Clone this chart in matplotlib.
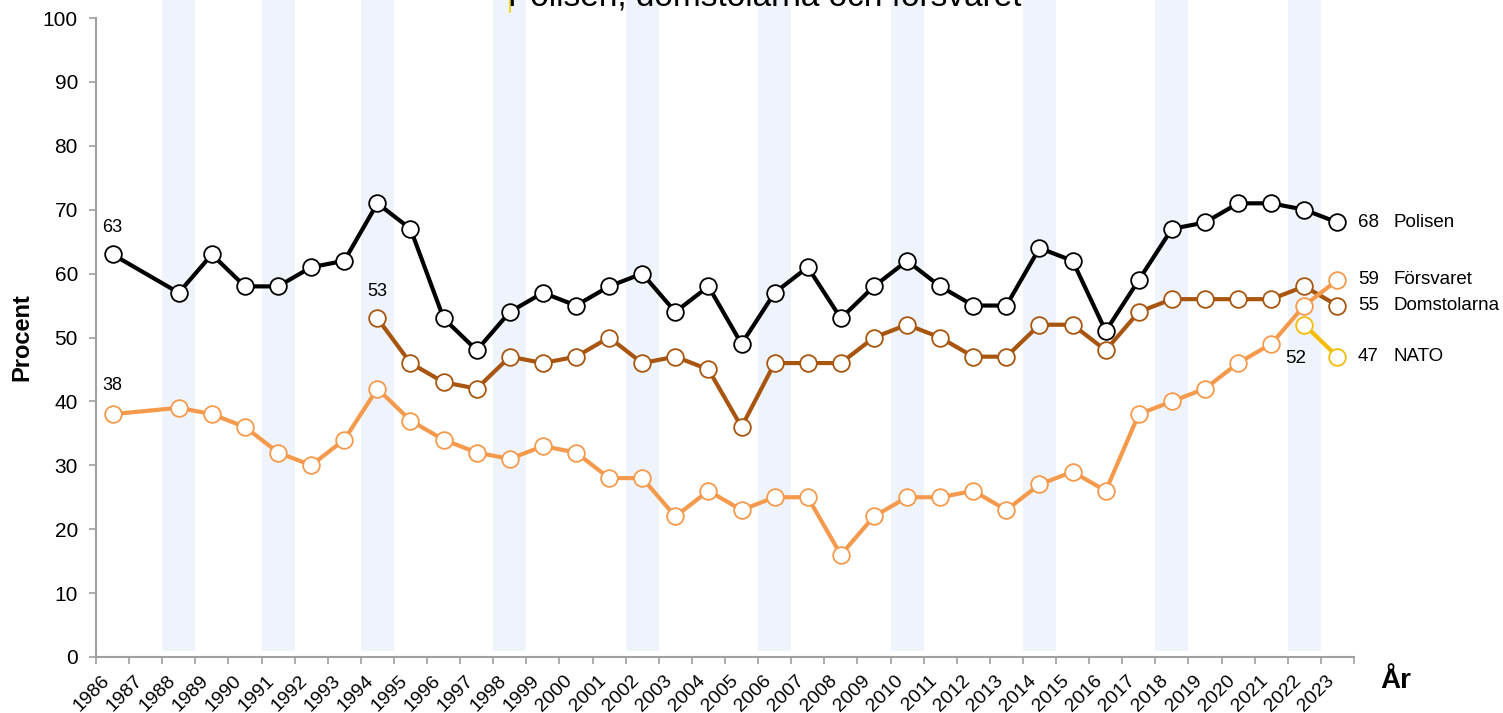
import matplotlib
matplotlib.use("Agg")
import matplotlib.pyplot as plt
from matplotlib.patches import Rectangle
from matplotlib.lines import Line2D

plt.rcParams['font.family'] = ['Liberation Sans', 'DejaVu Sans']

years = list(range(1986, 2024))
election_years = [1988, 1991, 1994, 1998, 2002, 2006, 2010, 2014, 2018, 2022]

polisen_years = [1986] + list(range(1988, 2024))
polisen = [63, 57, 63, 58, 58, 61, 62, 71, 67, 53, 48, 54, 57, 55, 58, 60, 54, 58, 49,
           57, 61, 53, 58, 62, 58, 55, 55, 64, 62, 51, 59, 67, 68, 71, 71, 70, 68]

dom_years = list(range(1994, 2024))
domstolarna = [53, 46, 43, 42, 47, 46, 47, 50, 46, 47, 45, 36, 46, 46, 46, 50, 52, 50,
               47, 47, 52, 52, 48, 54, 56, 56, 56, 56, 58, 55]

fors_years = [1986] + list(range(1988, 2024))
forsvaret = [38, 39, 38, 36, 32, 30, 34, 42, 37, 34, 32, 31, 33, 32, 28, 28, 22, 26, 23,
             25, 25, 16, 22, 25, 25, 26, 23, 27, 29, 26, 38, 40, 42, 46, 49, 55, 59]

nato_years = [2022, 2023]
nato = [52, 47]

series = [
    ("Polisen", polisen_years, polisen, "#000000"),
    ("Domstolarna", dom_years, domstolarna, "#a8550f"),
    ("Försvaret", fors_years, forsvaret, "#f59a4c"),
    ("NATO", nato_years, nato, "#f5bd0a"),
]

W, H = 1503, 713
fig = plt.figure(figsize=(W / 100, H / 100), dpi=100)
ax = fig.add_axes([96 / W, 1 - 657 / H, (1354 - 96) / W, (657 - 18) / H])

ax.set_xlim(-0.5, len(years) - 0.5)
ax.set_ylim(0, 100)

# election-year bands (extend above the plot area)
for ey in election_years:
    i = years.index(ey)
    ax.add_patch(Rectangle((i - 0.5, 0.9), 1.0, 102.2, facecolor="#eff4fc",
                           edgecolor="none", zorder=0, clip_on=False))

def xpos(ys):
    return [years.index(y) for y in ys]

for name, ys, vals, col in series:
    ax.plot(xpos(ys), vals, color=col, lw=3, marker="o", markersize=12,
            markerfacecolor="white", markeredgecolor=col, markeredgewidth=1.3,
            zorder=3, solid_joinstyle="round")

# end labels
for name, ys, vals, col in series:
    x = years.index(ys[-1])
    ax.text(x + 0.62, vals[-1], f"{vals[-1]}", fontsize=13.5, va="center", ha="left",
            clip_on=False)
    ax.text(x + 1.7, vals[-1], name, fontsize=13.5, va="center", ha="left",
            clip_on=False)

# start labels
ax.text(years.index(polisen_years[0]), polisen[0] + 4.2, f"{polisen[0]}", fontsize=13,
        ha="center", va="center")
ax.text(years.index(fors_years[0]), forsvaret[0] + 4.5, f"{forsvaret[0]}", fontsize=13,
        ha="center", va="center")
ax.text(years.index(dom_years[0]), domstolarna[0] + 4.2, f"{domstolarna[0]}", fontsize=13,
        ha="center", va="center")
ax.text(years.index(nato_years[0]) - 0.25, nato[0] - 5.3, f"{nato[0]}", fontsize=13.5,
        ha="center", va="center")

# axes styling
for s in ["top", "right"]:
    ax.spines[s].set_visible(False)
for s in ["left", "bottom"]:
    ax.spines[s].set_color("#a0a0a0")
    ax.spines[s].set_linewidth(1.5)

ax.set_yticks(range(0, 101, 10))
ax.tick_params(axis="y", length=5, width=1.2, color="#a0a0a0", labelsize=15, pad=8)

ax.set_xticks(range(len(years)))
ax.set_xticklabels([str(y) for y in years], rotation=45, ha="right", fontsize=14)
ax.tick_params(axis="x", which="major", length=0, pad=11)
ax.set_xticks([i - 0.5 for i in range(len(years) + 1)], minor=True)
ax.tick_params(axis="x", which="minor", length=5, width=1.2, color="#a0a0a0")

ax.set_ylabel("Procent", fontsize=17, fontweight="bold")
ax.yaxis.set_label_coords((33 - 96) / (1354 - 96), (657 - 337) / (657 - 18))
fig.text(1380 / W, 1 - 681 / H, "År", fontsize=20, fontweight="bold", ha="left", va="center")

# title (partially cut at the top)
fig.text(765 / W, 1 - 6 / H, "Polisen, domstolarna och försvaret", fontsize=24,
         ha="center", va="baseline")
fig.add_artist(Line2D([510 / W, 510 / W], [1 - 12 / H, 1.0], color="#f5d000", lw=1.2))

fig.savefig("out.png", dpi=100)
